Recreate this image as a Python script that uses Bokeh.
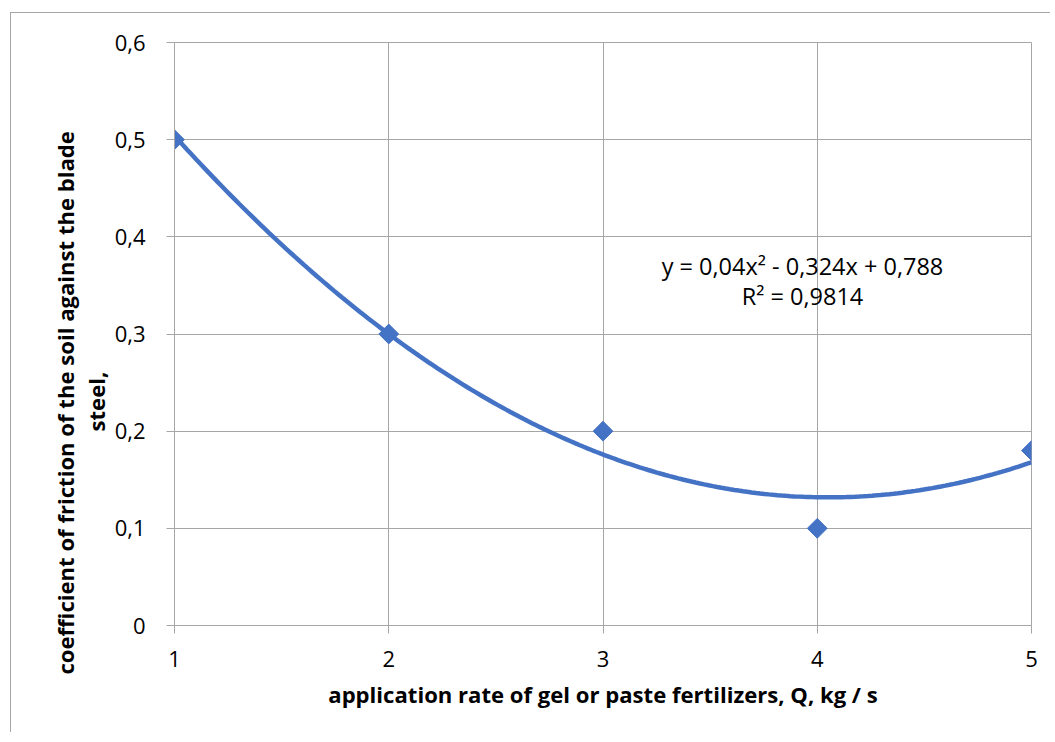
import numpy as np
from bokeh.plotting import figure
from bokeh.models import FixedTicker, Range1d, Label, Title, ColumnDataSource
from bokeh.embed import file_html
from bokeh.resources import INLINE

# ---- data ----
x_values = [1, 2, 3, 4, 5]
y_values = [0.5, 0.3, 0.2, 0.1, 0.18]
trend_coef = [0.04, -0.324, 0.788]          # y = 0,04x² - 0,324x + 0,788
x_ticks = [1, 2, 3, 4, 5]
y_ticks = [0, 0.1, 0.2, 0.3, 0.4, 0.5, 0.6]
y_tick_labels = ["0", "0,1", "0,2", "0,3", "0,4", "0,5", "0,6"]
x_title = "application rate of gel or paste fertilizers, Q, kg / s"
y_title_lines = ["coefficient of friction of the soil against the blade", "steel,"]
eq_lines = ["y = 0,04x² - 0,324x + 0,788", "R² = 0,9814"]

FONT = "Open Sans"
BLUE = "#4472C4"
GRID = "#a6a6a6"
TITLE_SIZE = "22.1px"

p = figure(width=1040, height=720, output_backend="svg", toolbar_location=None,
           x_range=Range1d(1, 5), y_range=Range1d(0, 0.6),
           min_border_left=163, min_border_right=20, min_border_top=29, min_border_bottom=108)
p.styles = {"margin-left": "10px", "margin-top": "12px",
            "border-left": "1px solid #a6a6a6", "border-top": "1px solid #a6a6a6"}
p.outline_line_color = GRID
p.outline_line_width = 1
p.background_fill_color = "white"
p.border_fill_color = "white"

for ax in (p.xaxis[0], p.yaxis[0]):
    ax.axis_line_color = GRID
    ax.major_tick_line_color = GRID
    ax.major_tick_out = 8
    ax.major_tick_in = 0
    ax.minor_tick_line_color = None
    ax.major_label_text_font = FONT
    ax.major_label_text_font_size = "22px"
    ax.major_label_text_color = "black"

p.xaxis.ticker = FixedTicker(ticks=x_ticks)
p.yaxis.ticker = FixedTicker(ticks=y_ticks)
p.yaxis.major_label_overrides = dict(zip(y_ticks, y_tick_labels))
p.xaxis.major_label_standoff = 17
p.yaxis.major_label_standoff = 21

p.xaxis.axis_label = x_title
p.xaxis.axis_label_text_font = FONT
p.xaxis.axis_label_text_font_style = "bold"
p.xaxis.axis_label_text_font_size = TITLE_SIZE
p.xaxis.axis_label_text_color = "black"
p.xaxis.axis_label_standoff = 9

p.xgrid.ticker = FixedTicker(ticks=x_ticks)
p.ygrid.ticker = FixedTicker(ticks=y_ticks)
p.xgrid.grid_line_color = GRID
p.ygrid.grid_line_color = GRID
p.xgrid.grid_line_width = 1
p.ygrid.grid_line_width = 1

# trendline (polynomial shown on chart)
xs = np.linspace(min(x_values), max(x_values), 200)
p.line(xs, np.polyval(trend_coef, xs), line_color=BLUE, line_width=4.5)

src = ColumnDataSource(dict(x=x_values, y=y_values))
p.scatter("x", "y", source=src, marker="square", angle=np.pi / 4, size=14,
          fill_color=BLUE, line_color=BLUE)

# y-axis title (two lines, rotated) as side titles
p.add_layout(Title(text=y_title_lines[1], align="left", offset=194, standoff=0,
                   vertical_align="middle",
                   text_font=FONT, text_font_style="bold", text_font_size=TITLE_SIZE,
                   text_color="black"), "left")
p.add_layout(Title(text=y_title_lines[0], align="left", offset=-49, standoff=0,
                   text_font=FONT, text_font_style="bold", text_font_size=TITLE_SIZE,
                   text_color="black"), "left")

# trendline equation
for txt, yd in [(eq_lines[0], 0.3695), (eq_lines[1], 0.3386)]:
    p.add_layout(Label(x=3.931, y=yd, text=txt, text_align="center", text_baseline="middle",
                       text_font=FONT, text_font_size="23.5px", text_color="black"))

open("out.html", "w").write(file_html(p, INLINE))
